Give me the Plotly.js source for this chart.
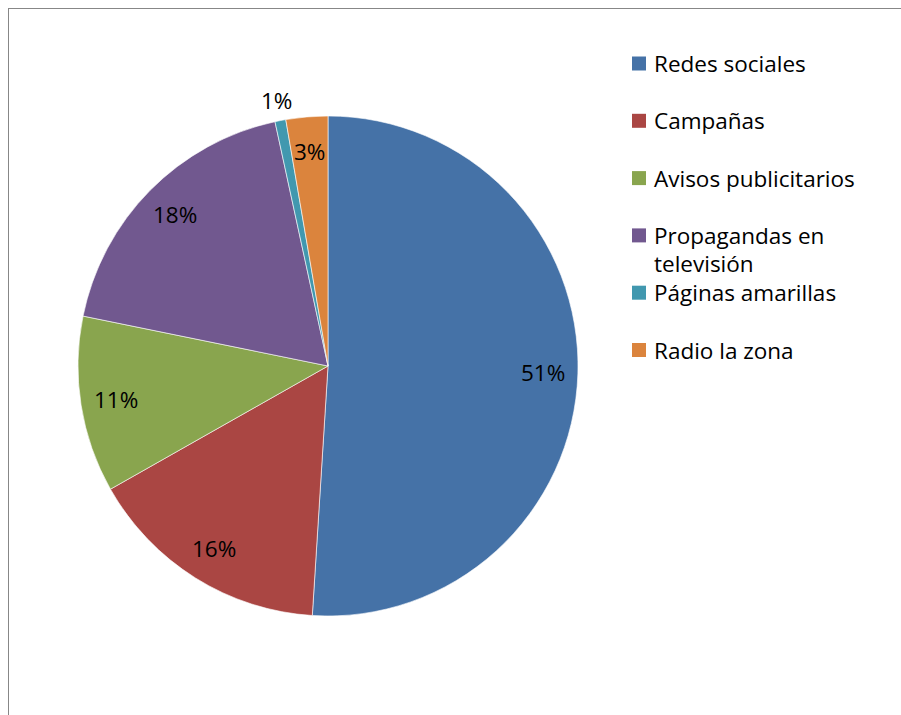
<!DOCTYPE html>
<html>
<head>
<meta charset="utf-8">
<script src="https://cdn.plot.ly/plotly-3.0.1.min.js"></script>
<style>
html,body{margin:0;padding:0;background:#fff;overflow:hidden;}
#wrap{position:relative;width:901px;height:715px;overflow:hidden;}
#chart{width:901px;height:715px;}
#frame{position:absolute;left:8px;top:8px;width:1200px;height:1200px;border-top:1.5px solid #878787;border-left:1.5px solid #878787;pointer-events:none;box-sizing:border-box;}
</style>
</head>
<body>
<div id="wrap"><div id="chart"></div><div id="frame"></div></div>
<script>
var categories = ['Redes sociales', 'Campañas', 'Avisos publicitarios', 'Propagandas en televisión', 'Páginas amarillas', 'Radio la zona'];
var values = [51.0, 15.8, 11.4, 18.4, 0.7, 2.7];
var colors = ['#4572A7', '#AA4643', '#89A54E', '#71588F', '#4198AF', '#DB843D'];
var labelOutside = [false, false, false, false, true, false];

var W = 901, H = 715;
var cx = 328, cy = 366, R = 250;
var FONT = '"Open Sans", Lato, "Liberation Sans", sans-serif';

function px(x) { return x / W; }
function py(y) { return 1 - y / H; }

var total = values.reduce(function (a, b) { return a + b; }, 0);
var annotations = [];
var shapes = [];

// percentage labels placed at slice mid-angle
var cum = 0;
values.forEach(function (v, i) {
  var mid = (cum + v / 2) / total * 2 * Math.PI;
  cum += v;
  var r = labelOutside[i] ? R * 1.08 : R * 0.86;
  var x = cx + r * Math.sin(mid);
  var y = cy - r * Math.cos(mid);
  annotations.push({
    xref: 'paper', yref: 'paper', x: px(x), y: py(y),
    xanchor: 'center', yanchor: 'middle', showarrow: false,
    text: Math.round(v / total * 100) + '%',
    font: { family: FONT, size: 22.5, color: '#000' }
  });
});

// legend (swatch + text, long labels wrapped onto a second line)
function wrapLines(s) {
  if (s.length <= 20) return [s];
  var cut = s.lastIndexOf(' ', 16);
  return [s.slice(0, cut), s.slice(cut + 1)];
}
var legX = 632, legY0 = 63.5, legStep = 57.3, sw = 14, lineGap = 28;
categories.forEach(function (c, i) {
  var yc = legY0 + i * legStep;
  shapes.push({
    type: 'rect', xref: 'paper', yref: 'paper',
    x0: px(legX), x1: px(legX + sw), y0: py(yc - sw / 2), y1: py(yc + sw / 2),
    fillcolor: colors[i], line: { width: 0 }
  });
  wrapLines(c).forEach(function (line, k) {
    annotations.push({
      xref: 'paper', yref: 'paper', x: px(legX + 20), y: py(yc + k * lineGap),
      xanchor: 'left', yanchor: 'middle', align: 'left', showarrow: false,
      text: line,
      font: { family: FONT, size: 22.5, color: '#000' }
    });
  });
});

var trace = {
  type: 'pie',
  labels: categories,
  values: values,
  sort: false,
  direction: 'clockwise',
  rotation: 0,
  marker: { colors: colors, line: { color: '#ffffff', width: 0.6 } },
  textinfo: 'none',
  hoverinfo: 'label+percent',
  showlegend: false,
  domain: { x: [px(cx - R), px(cx + R)], y: [py(cy + R), py(cy - R)] }
};

var layout = {
  width: W, height: H,
  margin: { l: 0, r: 0, t: 0, b: 0 },
  paper_bgcolor: '#ffffff',
  showlegend: false,
  annotations: annotations,
  shapes: shapes
};

Plotly.newPlot('chart', [trace], layout, { displayModeBar: false, staticPlot: true });
</script>
</body>
</html>
